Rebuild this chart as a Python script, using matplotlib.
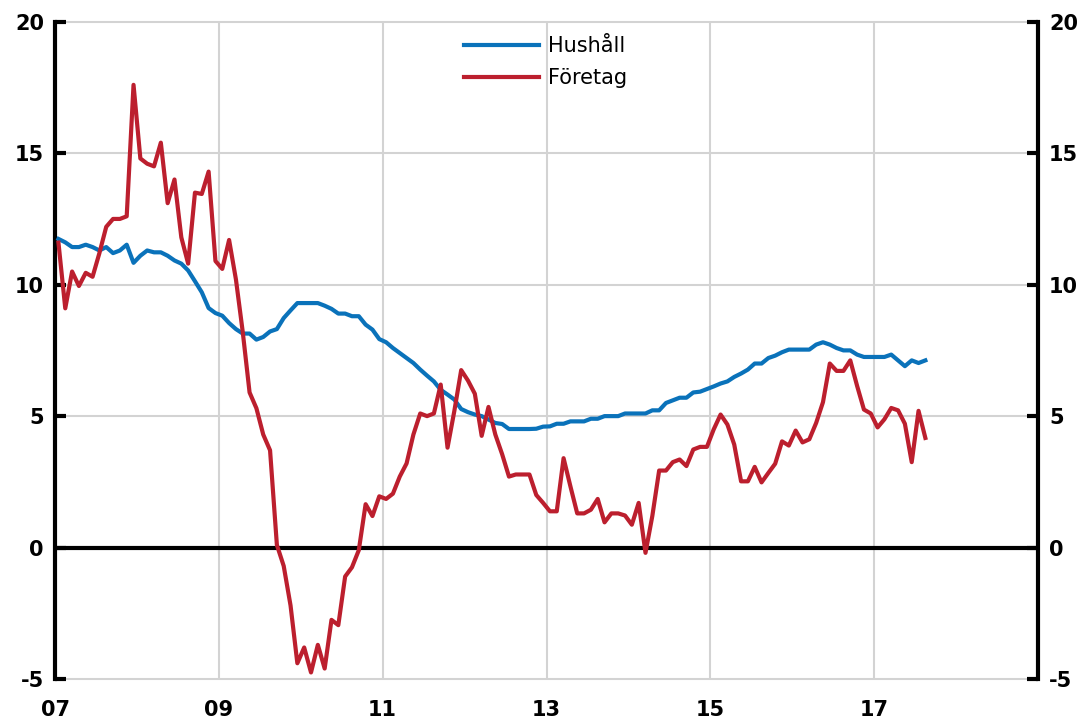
import matplotlib

matplotlib.use("Agg")
import matplotlib.pyplot as plt  # noqa: E402
import numpy as np  # noqa: E402

# Utlåningstillväxt, årlig procentuell förändring, månadsdata jan 2007 - aug 2017
START_AR = 2007

hushall = [
    11.74, 11.61, 11.43, 11.43, 11.52, 11.43, 11.30, 11.43, 11.20, 11.30, 11.52, 10.83,
    11.10, 11.30, 11.23, 11.23, 11.10, 10.92, 10.80, 10.54, 10.13, 9.71, 9.11, 8.92,
    8.82, 8.54, 8.31, 8.14, 8.14, 7.91, 8.01, 8.22, 8.31, 8.73, 9.02, 9.30,
    9.30, 9.30, 9.30, 9.20, 9.08, 8.90, 8.90, 8.80, 8.80, 8.48, 8.29, 7.93,
    7.81, 7.59, 7.40, 7.21, 7.02, 6.77, 6.54, 6.32, 6.00, 5.82, 5.63, 5.27,
    5.15, 5.06, 5.00, 4.87, 4.74, 4.70, 4.51, 4.51, 4.51, 4.51, 4.52, 4.60,
    4.61, 4.71, 4.71, 4.80, 4.80, 4.80, 4.90, 4.90, 5.00, 5.00, 5.00, 5.10,
    5.10, 5.10, 5.10, 5.22, 5.22, 5.50, 5.60, 5.70, 5.70, 5.90, 5.93, 6.03,
    6.13, 6.24, 6.32, 6.49, 6.62, 6.77, 7.00, 7.00, 7.21, 7.30, 7.43, 7.53,
    7.53, 7.53, 7.53, 7.72, 7.81, 7.72, 7.59, 7.50, 7.50, 7.34, 7.25, 7.25,
    7.25, 7.25, 7.34, 7.12, 6.90, 7.12, 7.02, 7.12,
]

foretag = [
    11.6, 9.1, 10.5, 9.95, 10.45, 10.3, 11.2, 12.2, 12.5, 12.5, 12.6, 17.6,
    14.8, 14.6, 14.5, 15.4, 13.1, 14.0, 11.8, 10.8, 13.5, 13.45, 14.3, 10.9,
    10.6, 11.7, 10.2, 8.2, 5.9, 5.3, 4.3, 3.7, 0.1, -0.7, -2.2, -4.4,
    -3.8, -4.75, -3.7, -4.6, -2.75, -2.95, -1.1, -0.75, -0.1, 1.65, 1.2, 1.95,
    1.85, 2.05, 2.7, 3.2, 4.3, 5.1, 5.0, 5.1, 6.2, 3.8, 5.2, 6.75,
    6.35, 5.85, 4.25, 5.35, 4.3, 3.55, 2.7, 2.78, 2.78, 2.78, 2.0, 1.7,
    1.38, 1.38, 3.4, 2.33, 1.3, 1.3, 1.44, 1.85, 0.96, 1.3, 1.3, 1.22,
    0.87, 1.7, -0.2, 1.2, 2.93, 2.93, 3.25, 3.35, 3.1, 3.73, 3.83, 3.83,
    4.5, 5.06, 4.68, 3.92, 2.52, 2.52, 3.07, 2.48, 2.84, 3.19, 4.04, 3.88,
    4.45, 4.0, 4.12, 4.74, 5.53, 7.0, 6.72, 6.72, 7.12, 6.15, 5.25, 5.1,
    4.57, 4.88, 5.31, 5.22, 4.71, 3.25, 5.2, 4.17,
]

ar_ticks = [2007, 2009, 2011, 2013, 2015, 2017]
ar_etiketter = ["07", "09", "11", "13", "15", "17"]
y_ticks = [-5, 0, 5, 10, 15, 20]

BLA = "#0A72BA"
ROD = "#BC1F2E"

plt.rcParams["font.family"] = ["DejaVu Sans"]

fig = plt.figure(figsize=(10.79, 7.25), dpi=100)
ax = fig.add_axes([0.051, 0.0634, 0.911, 0.9066])

x = START_AR + (np.arange(len(hushall)) + 0.5) / 12
ax.plot(x, hushall, color=BLA, lw=3, label="Hushåll", zorder=3)
ax.plot(x, foretag, color=ROD, lw=3, label="Företag", zorder=4)

ax.axhline(0, color="black", lw=3, zorder=2)
ax.set_xlim(2007, 2019)
ax.set_ylim(-5, 20)

# rutnät
for v in [-5, 5, 10, 15, 20]:
    ax.axhline(v, color="#d3d3d3", lw=1.5, zorder=1, clip_on=False)
for a in ar_ticks[1:]:
    ax.axvline(a, color="#d3d3d3", lw=1.5, zorder=1)

ax.set_xticks(ar_ticks)
ax.set_xticklabels(ar_etiketter, fontsize=15, fontweight="bold")
ax.tick_params(axis="x", length=0, pad=15)

ax.set_yticks(y_ticks)
ax.set_yticklabels([str(v) for v in y_ticks], fontsize=15, fontweight="bold")
ax.tick_params(axis="y", direction="in", length=8, width=3, pad=8,
               left=True, right=True, labelleft=True, labelright=True)

for s in ["top", "bottom"]:
    ax.spines[s].set_visible(False)
for s in ["left", "right"]:
    ax.spines[s].set_linewidth(3)
    ax.spines[s].set_color("black")

leg = ax.legend(loc="upper left", bbox_to_anchor=(0.401, 1.0), frameon=False,
                fontsize=15, handlelength=3.6, handletextpad=0.45,
                labelspacing=0.55, borderaxespad=0.3)

fig.savefig("out.png", dpi=100)
